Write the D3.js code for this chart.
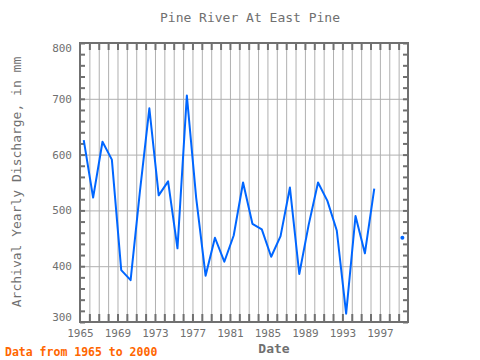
<!DOCTYPE html>
<html><head><meta charset="utf-8">
<script src="https://cdn.jsdelivr.net/npm/d3@7/dist/d3.min.js"></script>
<style>body{margin:0;background:#fff}svg{display:block}</style>
</head><body>
<svg id="c" width="480" height="360"></svg>
<script>
const years = [1965,1966,1967,1968,1969,1970,1971,1972,1973,1974,1975,1976,1977,1978,1979,1980,1981,1982,1983,1984,1985,1986,1987,1988,1989,1990,1991,1992,1993,1994,1995,1996,1997,1998,1999];
const discharge = [626,523,623,591,393,375,535,683,527,552,432,706,522,383,451,408,455,550,476,466,417,454,541,386,474,550,517,464,315,490,423,539,null,null,451];
const xTickLabels = [1965,1969,1973,1977,1981,1985,1989,1993,1997];
const yTickLabels = [300,400,500,600,700,800];

const data = years.map((y,i)=>({year:y, v:discharge[i]}));
const L=80, R=408, T=43, B=322;
const svg = d3.select("#c");
const x = d3.scaleLinear().domain([1965,2000]).range([L,R]);
const y = d3.scaleLinear().domain([300,800]).range([B,T]);
const gray="#707070", grid="#b0b0b0";
const font="'DejaVu Sans Mono', monospace";
const yearTicks = d3.range(1966,2000);
const minor = d3.range(300,801,20);

// grid
const gx = svg.append("g").attr("transform",`translate(0,${B})`)
  .call(d3.axisBottom(x).tickValues(yearTicks).tickSize(-(B-T)).tickFormat(""));
gx.select(".domain").remove();
gx.selectAll("line").attr("stroke",grid).attr("stroke-width",1);
const gy = svg.append("g").attr("transform",`translate(${L},0)`)
  .call(d3.axisLeft(y).tickValues([400,500,600,700]).tickSize(-(R-L)).tickFormat(""));
gy.select(".domain").remove();
gy.selectAll("line").attr("stroke",grid).attr("stroke-width",1);

// inner ticks
function styleTicks(g){g.select(".domain").remove();g.selectAll("line").attr("stroke",gray).attr("stroke-width",2);g.selectAll("text").remove();}
svg.append("g").attr("transform",`translate(0,${T})`).call(d3.axisBottom(x).tickValues(yearTicks).tickSize(7)).call(styleTicks);
svg.append("g").attr("transform",`translate(0,${B})`).call(d3.axisTop(x).tickValues(yearTicks).tickSize(8)).call(styleTicks);
svg.append("g").attr("transform",`translate(${L},0)`).call(d3.axisRight(y).tickValues(minor).tickSize(5)).call(styleTicks);
svg.append("g").attr("transform",`translate(${R},0)`).call(d3.axisLeft(y).tickValues(minor).tickSize(5)).call(styleTicks);

// frame
svg.append("rect").attr("x",L).attr("y",T).attr("width",R-L).attr("height",B-T)
  .attr("fill","none").attr("stroke",gray).attr("stroke-width",2);

// labels
const ax = svg.append("g").attr("transform",`translate(0,${B})`)
  .call(d3.axisBottom(x).tickValues(xTickLabels).tickSize(0).tickPadding(7).tickFormat(d3.format("d")));
ax.select(".domain").remove();
ax.selectAll("text").attr("font-family",font).attr("font-size",11).attr("fill",gray);
const ay = svg.append("g").attr("transform",`translate(${L},0)`)
  .call(d3.axisLeft(y).tickValues(yTickLabels).tickSize(0).tickPadding(8));
ay.select(".domain").remove();
ay.selectAll("text").attr("font-family",font).attr("font-size",11).attr("fill",gray)
  .attr("dy",d=> d===800 ? "0.75em" : d===300 ? "-0.1em" : "0.32em");

// data line
const off = 0.4;
const line = d3.line().defined(d=>d.v!=null).x(d=>x(d.year+off)).y(d=>y(d.v));
svg.append("path").datum(data).attr("d",line).attr("fill","none")
  .attr("stroke","#0066ff").attr("stroke-width",2).attr("stroke-linejoin","round");
const isolated = data.filter((d,i)=>d.v!=null && (i==0||data[i-1].v==null) && (i==data.length-1||data[i+1].v==null));
svg.selectAll("circle.iso").data(isolated).enter().append("circle")
  .attr("cx",d=>x(d.year+off)).attr("cy",d=>y(d.v)).attr("r",2).attr("fill","#0066ff");

// titles
svg.append("text").attr("x",250).attr("y",22).attr("text-anchor","middle")
  .attr("font-family",font).attr("font-size",13).attr("fill",gray).text("Pine River At East Pine");
svg.append("text").attr("transform","translate(21,182) rotate(-90)").attr("text-anchor","middle")
  .attr("font-family",font).attr("font-size",13).attr("fill",gray).text("Archival Yearly Discharge, in mm");
svg.append("text").attr("x",274).attr("y",353).attr("text-anchor","middle")
  .attr("font-family",font).attr("font-size",13).attr("font-weight","bold").attr("fill",gray).text("Date");
svg.append("text").attr("x",5).attr("y",356)
  .attr("font-family",font).attr("font-size",11.5).attr("font-weight","bold").attr("fill","#ff6600").text("Data from 1965 to 2000");
</script>
</body></html>
